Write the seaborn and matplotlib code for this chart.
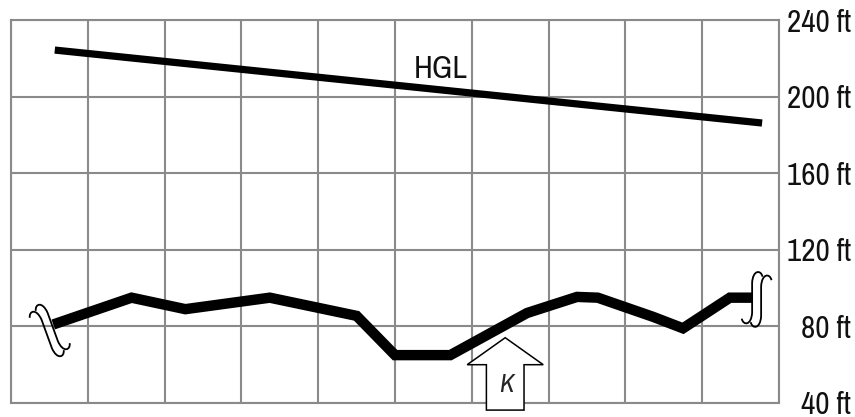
import numpy as np
import pandas as pd
import matplotlib
matplotlib.use("Agg")
import matplotlib.pyplot as plt
import seaborn as sns
from matplotlib.path import Path
from matplotlib.patches import PathPatch, Polygon
from matplotlib.transforms import Affine2D, ScaledTranslation
from matplotlib import font_manager

# ---- data ----
hgl_x = [0.57, 9.78]
hgl_ft = [224.3, 186.2]
ground_x = [0.55, 1.57, 2.27, 3.37, 4.5, 5.0, 5.72, 6.72, 7.37, 7.64, 8.36, 8.75, 9.36, 9.65]
ground_ft = [81, 95, 89, 95, 85.5, 65, 65, 87, 95.4, 95, 85, 79, 95, 95]
y_ticks = [40, 80, 120, 160, 200, 240]
y_tick_labels = ["40 ft", "80 ft", "120 ft", "160 ft", "200 ft", "240 ft"]
x_ticks = list(range(0, 11))
hgl_label = "HGL"
arrow_label = "K"

sns.set_style("white")
names = sorted({f.name for f in font_manager.fontManager.ttflist})
cond = [n for n in names if "Narrow" in n or "Condensed" in n]
FONT = cond[:1] + ["Liberation Sans", "DejaVu Sans"]
plt.rcParams["font.family"] = FONT
plt.rcParams["font.stretch"] = "condensed"

W, H = 855, 417
fig = plt.figure(figsize=(W / 100, H / 100), dpi=100)
ax = fig.add_axes([11 / W, (H - 403) / H, 768 / W, 383 / H])

grid_c = "#8a8a8a"
ax.set_xlim(0, 10)
ax.set_ylim(40, 240)
ax.set_xticks(x_ticks)
ax.set_yticks(y_ticks)
ax.set_yticklabels(y_tick_labels)
ax.xaxis.set_tick_params(length=0, labelbottom=False)
ax.yaxis.tick_right()
ax.yaxis.set_tick_params(length=0, pad=52, labelsize=22.5, labelcolor="#111111")
labels = ax.get_yticklabels()
for lab in labels:
    lab.set_horizontalalignment("right")
labels[0].set_verticalalignment("center_baseline")
labels[0].set_transform(labels[0].get_transform()
                        + ScaledTranslation(0, 1 / 100, fig.dpi_scale_trans))
ax.grid(True, color=grid_c, linewidth=1.5)
ax.set_axisbelow(True)
for s in ax.spines.values():
    s.set_color(grid_c)
    s.set_linewidth(1.5)

df_h = pd.DataFrame({"x": hgl_x, "ft": hgl_ft})
df_g = pd.DataFrame({"x": ground_x, "ft": ground_ft})
sns.lineplot(data=df_h, x="x", y="ft", ax=ax, color="black", linewidth=5.2,
             sort=False, solid_capstyle="butt")
sns.lineplot(data=df_g, x="x", y="ft", ax=ax, color="black", linewidth=7.5,
             sort=False, solid_capstyle="butt", solid_joinstyle="miter")
ax.set_xlabel("")
ax.set_ylabel("")

ax.text(5.6, 214.4, hgl_label, fontsize=23, ha="center", va="center", color="#111111")

# break symbols (integral-like curves) at the ground line ends
integral = Path(
    [(0.26, 0.42), (0.22, 0.56), (0.02, 0.56), (0.0, 0.3),
     (0.0, -0.3),
     (-0.02, -0.56), (-0.22, -0.56), (-0.26, -0.42)],
    [Path.MOVETO, Path.CURVE4, Path.CURVE4, Path.CURVE4,
     Path.LINETO,
     Path.CURVE4, Path.CURVE4, Path.CURVE4])


def draw_break(anchor, dx, dy, mirror, rot):
    t = Affine2D().scale(-40 if mirror else 40, 50).rotate_deg(rot).translate(dx, -dy)
    t = t + ScaledTranslation(anchor[0], anchor[1], ax.transData)
    ax.add_patch(PathPatch(integral, transform=t, fill=False, lw=1.3,
                           edgecolor="black", clip_on=False, zorder=5))


left_anchor = (ground_x[0], ground_ft[0])
right_anchor = (ground_x[-1], ground_ft[-1])
draw_break(left_anchor, -6.5, 9.5, True, 20)
draw_break(left_anchor, -0.5, 2.5, True, 20)
draw_break(right_anchor, 0, 0, False, 0)
draw_break(right_anchor, 9, 3.5, False, 0)

# block arrow labelled K
cx, tip, head_base, bottom = 6.435, 74.1, 60.0, 36.3
hw, sw = 0.495, 0.245
arrow = Polygon([(cx, tip), (cx + hw, head_base), (cx + sw, head_base), (cx + sw, bottom),
                 (cx - sw, bottom), (cx - sw, head_base), (cx - hw, head_base)],
                closed=True, facecolor="white", edgecolor="black", lw=1.1,
                clip_on=False, zorder=6)
ax.add_patch(arrow)
ax.text(cx + 0.02, 49.4, arrow_label, fontsize=19, style="italic", ha="center",
        va="center", zorder=7)

fig.savefig("out.png", dpi=100)
